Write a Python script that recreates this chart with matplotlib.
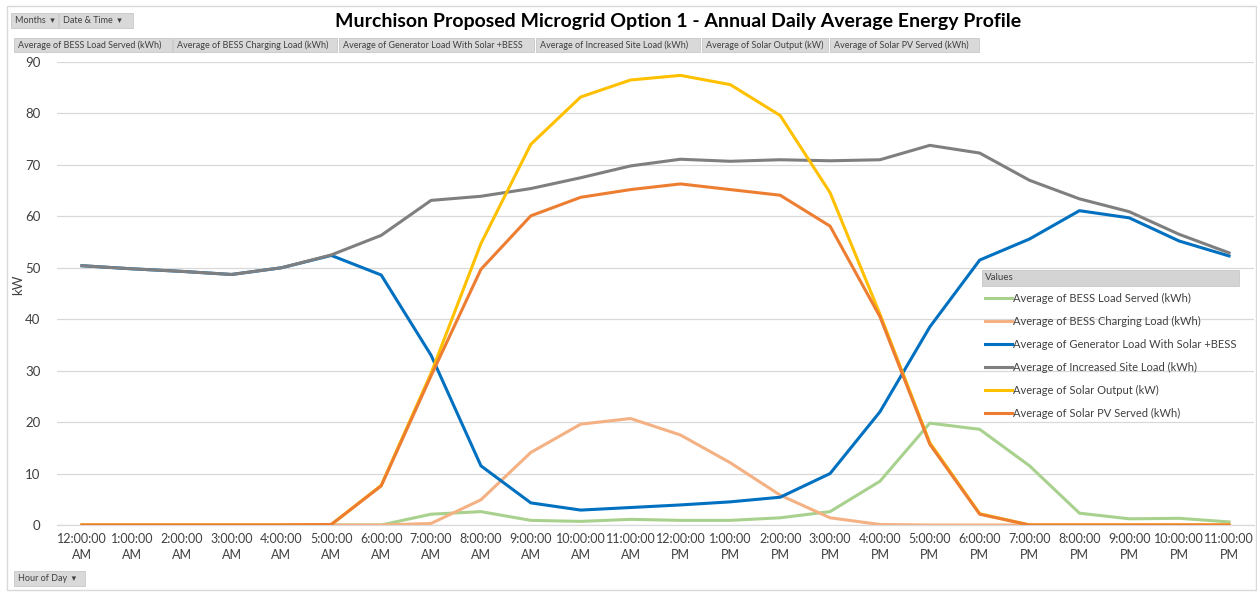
import matplotlib
matplotlib.use("Agg")
import matplotlib.pyplot as plt
from matplotlib.patches import Rectangle

plt.rcParams['font.family'] = ['Lato', 'DejaVu Sans']

# ---------------- data ----------------
hours = ["12:00:00\nAM", "1:00:00\nAM", "2:00:00\nAM", "3:00:00\nAM", "4:00:00\nAM", "5:00:00\nAM",
         "6:00:00\nAM", "7:00:00\nAM", "8:00:00\nAM", "9:00:00\nAM", "10:00:00\nAM", "11:00:00\nAM",
         "12:00:00\nPM", "1:00:00\nPM", "2:00:00\nPM", "3:00:00\nPM", "4:00:00\nPM", "5:00:00\nPM",
         "6:00:00\nPM", "7:00:00\nPM", "8:00:00\nPM", "9:00:00\nPM", "10:00:00\nPM", "11:00:00\nPM"]

bess_load_served = [0, 0, 0, 0, 0, 0, 0, 2.1, 2.6, 0.9, 0.7, 1.1, 0.9, 0.9, 1.4, 2.6,
                    8.5, 19.8, 18.6, 11.5, 2.3, 1.2, 1.3, 0.6]
bess_charging = [0, 0, 0, 0, 0, 0, 0, 0.3, 4.9, 14.1, 19.6, 20.7, 17.5, 12.1, 5.8, 1.4,
                 0.1, 0, 0, 0, 0, 0, 0, 0]
generator_load = [50.4, 49.8, 49.3, 48.7, 50.0, 52.4, 48.6, 33.0, 11.5, 4.3, 2.9, 3.4, 3.9, 4.5,
                  5.4, 10.0, 22.0, 38.5, 51.5, 55.6, 61.1, 59.7, 55.2, 52.3]
site_load = [50.4, 49.8, 49.3, 48.7, 50.0, 52.5, 56.3, 63.1, 63.9, 65.4, 67.5, 69.8, 71.1, 70.7,
             71.0, 70.8, 71.0, 73.8, 72.3, 67.0, 63.4, 60.9, 56.5, 52.9]
solar_output = [0, 0, 0, 0, 0, 0.1, 7.7, 29.5, 54.7, 74.0, 83.2, 86.5, 87.4, 85.6, 79.6, 64.6,
                41.0, 16.0, 2.2, 0, 0, 0, 0, 0]
solar_pv_served = [0, 0, 0, 0, 0, 0.1, 7.6, 29.0, 49.7, 60.1, 63.7, 65.2, 66.3, 65.2, 64.1, 58.1,
                   40.5, 15.7, 2.1, 0, 0, 0, 0, 0]

series_names = ["Average of BESS Load Served (kWh)",
                "Average of BESS Charging Load (kWh)",
                "Average of Generator Load With Solar +BESS",
                "Average of Increased Site Load (kWh)",
                "Average of Solar Output (kW)",
                "Average of Solar PV Served (kWh)"]
series_values = [bess_load_served, bess_charging, generator_load, site_load, solar_output, solar_pv_served]
series_colors = ["#A9D18E", "#F4B183", "#0070C0", "#7F7F7F", "#FFC000", "#ED7D31"]

title = "Murchison Proposed Microgrid Option 1 - Annual Daily Average Energy Profile"
y_ticks = list(range(0, 100, 10))

# ---------------- figure ----------------
W, H = 1257, 592
fig = plt.figure(figsize=(W / 100, H / 100), dpi=100)
fig.patch.set_facecolor("white")

def fx(px):
    return px / W

def fy(py):
    return 1 - py / H

# chart border
fig.add_artist(Rectangle((fx(7), fy(590)), fx(1256) - fx(7), fy(6) - fy(590),
                         transform=fig.transFigure, fill=False, edgecolor="#D9D9D9", lw=1))

ax_l, ax_r, ax_t, ax_b = 57, 1254, 62, 525
ax = fig.add_axes([fx(ax_l), fy(ax_b), fx(ax_r) - fx(ax_l), fy(ax_t) - fy(ax_b)])

x = list(range(len(hours)))
handles = []
for name, vals, col in zip(series_names, series_values, series_colors):
    ln, = ax.plot(x, vals, color=col, lw=2.2, label=name, solid_joinstyle="round", zorder=3)
    handles.append(ln)

ax.set_xlim(-0.5, len(hours) - 0.5)
ax.set_ylim(0, 90)
ax.set_yticks(y_ticks)
ax.set_xticks(x)
ax.set_xticklabels(hours, fontsize=9, color="#404040", linespacing=1.35)
ax.tick_params(axis="y", labelsize=9.5, colors="#404040", length=0, pad=12)
ax.tick_params(axis="x", length=0, pad=6)
ax.grid(axis="y", color="#D9D9D9", lw=0.9, zorder=0)
for s in ["top", "right", "left"]:
    ax.spines[s].set_visible(False)
ax.spines["bottom"].set_color("#D9D9D9")
ax.spines["bottom"].set_linewidth(0.9)
ax.set_ylabel("kW", fontsize=9.5, color="#404040")
ax.yaxis.set_label_coords((24 - ax_l) / (ax_r - ax_l), (ax_b - 285) / (ax_b - ax_t))

# title
fig.text(fx(678), fy(22), title, ha="center", va="center", fontsize=14, fontweight="bold", color="black")

# pivot field buttons
def button(x0, x1, y0, y1, text, fs=6.5):
    fig.add_artist(Rectangle((fx(x0), fy(y1)), fx(x1) - fx(x0), fy(y0) - fy(y1),
                             transform=fig.transFigure, facecolor="#D9D9D9", edgecolor="#C8C8C8", lw=0.6))
    fig.text(fx(x0 + 4), fy((y0 + y1) / 2), text, ha="left", va="center", fontsize=fs, color="#404040")

button(11, 58, 13, 28, "Months  \u25be")
button(59, 133, 13, 28, "Date & Time  \u25be")
row_edges = [(14, 172), (173, 337), (339, 534), (536, 700), (702, 828), (830, 979)]
for (a, b), name in zip(row_edges, series_names):
    button(a, b, 38, 52, name)
button(14, 85, 571, 586, "Hour of Day  \u25be")

# legend header
fig.add_artist(Rectangle((fx(982), fy(286)), fx(1239) - fx(982), fy(270) - fy(286),
                         transform=fig.transFigure, facecolor="#D4D4D4", edgecolor="#C8C8C8", lw=0.6))
fig.text(fx(985), fy(278), "Values", ha="left", va="center", fontsize=7, color="#404040")

leg = ax.legend(handles=handles, labels=series_names, loc="upper left",
                bbox_to_anchor=(fx(985), fy(292.5)), bbox_transform=fig.transFigure,
                frameon=False, fontsize=8, handlelength=2.4, handletextpad=0.15,
                labelspacing=1.09, borderpad=0, borderaxespad=0)
for t in leg.get_texts():
    t.set_color("#404040")

fig.savefig("out.png", dpi=100, facecolor="white")
